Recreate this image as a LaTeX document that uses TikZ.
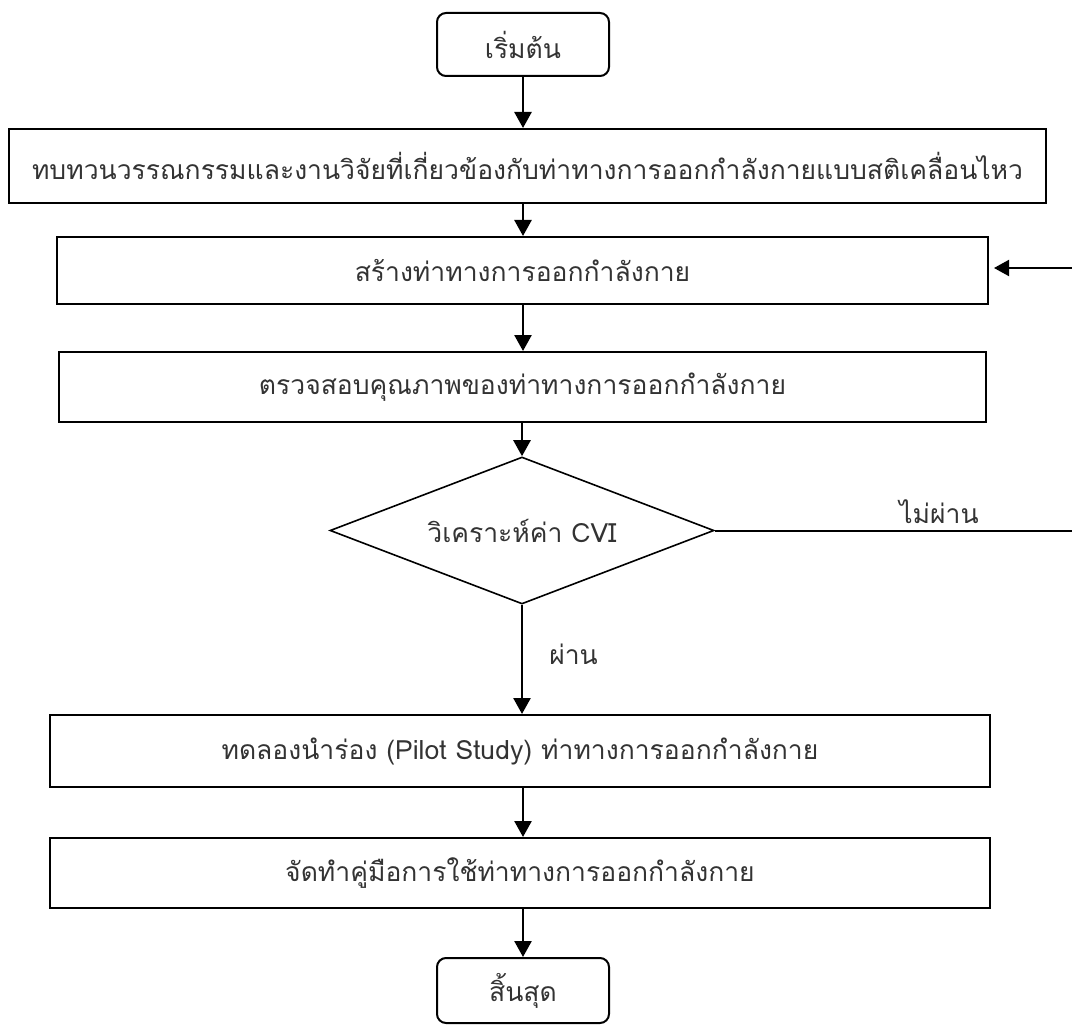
\documentclass[tikz,border=0pt]{standalone}
\usepackage{fontspec}
\setmainfont[Script=Thai]{Loma}
\usetikzlibrary{arrows.meta,shapes.geometric}
\begin{document}
\begin{tikzpicture}[x=1pt,y=-1pt,
  every node/.style={font=\fontsize{26.5}{30}\selectfont, text=black!80},
  terminal/.style={draw, line width=2pt, rounded corners=9pt, minimum width=172pt, inner sep=0pt},
  stepbox/.style={draw, line width=2pt, inner sep=0pt},
  decision/.style={draw, diamond, line width=1.6pt, inner sep=0pt, shape aspect=2.6},
  flow/.style={line width=2.6pt, -{Triangle[length=16pt,width=17pt]}},
  loop/.style={line width=2pt, -{Triangle[length=15pt,width=16pt]}},
  lbl/.style={font=\fontsize{26.5}{30}\selectfont, inner sep=0pt}]
\useasboundingbox (0,0) rectangle (1072,1030);

\node[terminal, minimum height=63pt] (start) at (523,44.5) {เริ่มต้น};
\node[stepbox, minimum width=1037pt, minimum height=74pt] (review) at (527.5,166)
  {ทบทวนวรรณกรรมและงานวิจัยที่เกี่ยวข้องกับท่าทางการออกกำลังกายแบบสติเคลื่อนไหว};
\node[stepbox, minimum width=931pt, minimum height=67pt] (build) at (522.5,270.5)
  {สร้างท่าทางการออกกำลังกาย};
\node[stepbox, minimum width=927pt, minimum height=70pt] (check) at (522.5,387)
  {ตรวจสอบคุณภาพของท่าทางการออกกำลังกาย};
\node[decision, minimum width=384pt, minimum height=147pt] (cvi) at (522,530.5)
  {วิเคราะห์ค่า CVI};
\node[stepbox, minimum width=940pt, minimum height=72pt] (pilot) at (520,751)
  {ทดลองนำร่อง (Pilot Study) ท่าทางการออกกำลังกาย};
\node[stepbox, minimum width=940pt, minimum height=70pt] (manual) at (520,873)
  {จัดทำคู่มือการใช้ท่าทางการออกกำลังกาย};
\node[terminal, minimum height=65pt] (finish) at (523,990.5) {สิ้นสุด};

% main flow
\draw[flow] (start.south) -- (review.north -| start.south);
\draw[flow] (review.south -| start.south) -- (build.north -| start.south);
\draw[flow] (build.south -| start.south) -- (check.north -| start.south);
\draw[flow] (check.south -| cvi.north) -- (cvi.north);
\draw[flow] (cvi.south) -- (pilot.north -| cvi.south)
  node[lbl, pos=0.45, right=26pt] {ผ่าน};
\draw[flow] (pilot.south -| start.south) -- (manual.north -| start.south);
\draw[flow] (manual.south -| start.south) -- (finish.north);

% rework loop
\coordinate (loopbot) at (1075,530.5);
\coordinate (looptop) at (1075,268);
\draw[loop, shorten >=5pt] (cvi.east) -- (loopbot) -- (looptop) -- (build.east |- looptop);
\node[lbl] (fail) at (939,512) {ไม่ผ่าน};
\end{tikzpicture}
\end{document}
